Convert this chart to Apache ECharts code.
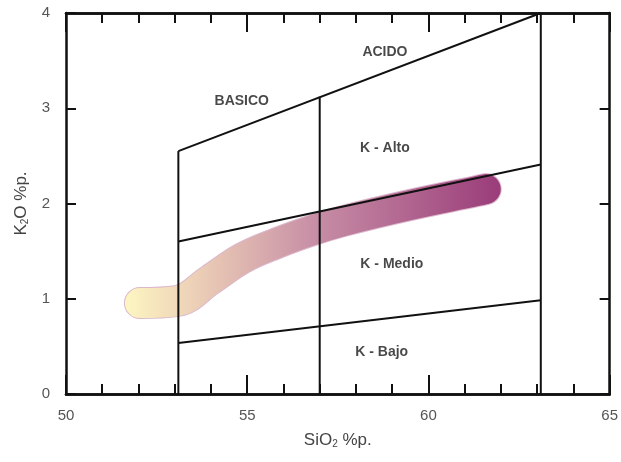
<!DOCTYPE html>
<html>
<head>
<meta charset="utf-8">
<script src="https://cdn.jsdelivr.net/npm/echarts@6/dist/echarts.min.js"></script>
<style>
  html, body { margin: 0; padding: 0; background: #fff; }
  #main { width: 621px; height: 462px; }
</style>
</head>
<body>
<div id="main"></div>
<script>
// field boundaries (SiO2, K2O)
var basicAcidLine = [[53.1, 2.55], [63.1, 4.0]];
var highMedLine = [[53.1, 1.6], [63.1, 2.41]];
var medLowLine = [[53.1, 0.535], [63.1, 0.985]];
var verticalLines = [
    [[53.1, 0], [53.1, 2.55]],
    [[57, 0], [57, 3.12]],
    [[63.1, 0], [63.1, 4.0]]
];

// trend of the samples
var trendSiO2 = [52.04, 53.06, 53.97, 54.88, 55.82, 56.73, 57.64, 59.48, 61.33, 61.58];
var trendK2O = [0.955, 0.976, 1.196, 1.427, 1.584, 1.71, 1.815, 1.983, 2.13, 2.151];

// field names
var fieldNames = ['BASICO', 'ACIDO', 'K - Alto', 'K - Medio', 'K - Bajo'];
var fieldX = [54.85, 58.8, 58.8, 58.99, 58.71];
var fieldY = [3.07, 3.59, 2.58, 1.36, 0.44];

var xTicks = [50, 55, 60, 65];
var yTicks = [0, 1, 2, 3, 4];

var mychart = echarts.init(document.getElementById('main'));

var lineStyleBlack = { color: '#111', width: 2 };

function boundary(data) {
    return {
        type: 'line',
        data: data,
        symbol: 'none',
        lineStyle: lineStyleBlack,
        z: 5,
        silent: true
    };
}

var trendData = trendSiO2.map(function (x, i) { return [x, trendK2O[i]]; });

var series = [
    // pale outline of the trend band
    {
        type: 'line',
        data: trendData,
        symbol: 'none',
        smooth: 0.4,
        lineStyle: { width: 32, color: '#dcb8cc', cap: 'round', join: 'round' },
        z: 2
    },
    {
        type: 'line',
        data: trendData,
        symbol: 'none',
        smooth: 0.4,
        lineStyle: {
            width: 30,
            cap: 'round',
            join: 'round',
            color: new echarts.graphic.LinearGradient(0, 0, 1, 0, [
                { offset: 0, color: '#fdf6c2' },
                { offset: 0.2, color: '#ebcdb6' },
                { offset: 0.5, color: '#c88fa6' },
                { offset: 1, color: '#9a3c7a' }
            ])
        },
        z: 3
    },
    boundary(basicAcidLine),
    boundary(highMedLine),
    boundary(medLowLine)
];
verticalLines.forEach(function (v) { series.push(boundary(v)); });

series.push({
    type: 'scatter',
    symbolSize: 0,
    data: fieldNames.map(function (n, i) { return { value: [fieldX[i], fieldY[i]], name: n }; }),
    label: {
        show: true,
        position: 'inside',
        formatter: '{b}',
        fontFamily: 'Liberation Sans',
        fontWeight: 'bold',
        fontSize: 14,
        color: '#1a1a1a'
    },
    z: 6
});

var axisLine = { show: true, onZero: false, lineStyle: { color: '#111', width: 2.5 } };
var tickStyle = { color: '#111', width: 2 };

function xAxisOf(pos, interval, len, withLabels) {
    var ax = {
        type: 'value', position: pos, min: 50, max: 65, interval: interval,
        axisLine: axisLine,
        axisTick: { inside: true, length: len, lineStyle: tickStyle },
        splitLine: { show: false },
        axisLabel: { show: false }
    };
    if (withLabels) {
        ax.axisLabel = {
            margin: 14, fontSize: 15, color: '#555', fontFamily: 'Liberation Sans',
            formatter: function (v) { return xTicks.indexOf(v) >= 0 ? String(v) : ''; }
        };
        ax.name = '{a|SiO}{s|2}{a| %p.}';
        ax.nameLocation = 'middle';
        ax.nameGap = 37;
        ax.nameTextStyle = {
            rich: {
                a: { fontSize: 17, color: '#444', fontFamily: 'Liberation Sans' },
                s: { fontSize: 10, color: '#444', fontFamily: 'Liberation Sans', verticalAlign: 'bottom', padding: [8, 0, 0, 0] }
            }
        };
    }
    return ax;
}

var option = {
    animation: false,
    grid: { left: 66, right: 11, top: 13, bottom: 68 },
    xAxis: [
        xAxisOf('bottom', 5, 19, true),
        xAxisOf('bottom', 1, 10, false),
        xAxisOf('top', 5, 19, false),
        xAxisOf('top', 1, 10, false)
    ],
    yAxis: [
        {
            type: 'value', position: 'left', min: 0, max: 4, interval: 1,
            axisLine: axisLine,
            axisTick: { inside: true, length: 10, lineStyle: tickStyle },
            splitLine: { show: false },
            axisLabel: {
                margin: 16, fontSize: 15, color: '#555', fontFamily: 'Liberation Sans',
                formatter: function (v) { return yTicks.indexOf(v) >= 0 ? String(v) : ''; }
            },
            name: '{a|K}{s|2}{a|O %p.}',
            nameLocation: 'middle',
            nameGap: 36,
            nameTextStyle: {
                rich: {
                    a: { fontSize: 17, color: '#444', fontFamily: 'Liberation Sans' },
                    s: { fontSize: 10, color: '#444', fontFamily: 'Liberation Sans', verticalAlign: 'bottom', padding: [8, 0, 0, 0] }
                }
            }
        },
        {
            type: 'value', position: 'right', min: 0, max: 4, interval: 1,
            axisLine: axisLine,
            axisTick: { inside: true, length: 10, lineStyle: tickStyle },
            splitLine: { show: false },
            axisLabel: { show: false }
        }
    ],
    series: series
};

mychart.setOption(option);
</script>
</body>
</html>
